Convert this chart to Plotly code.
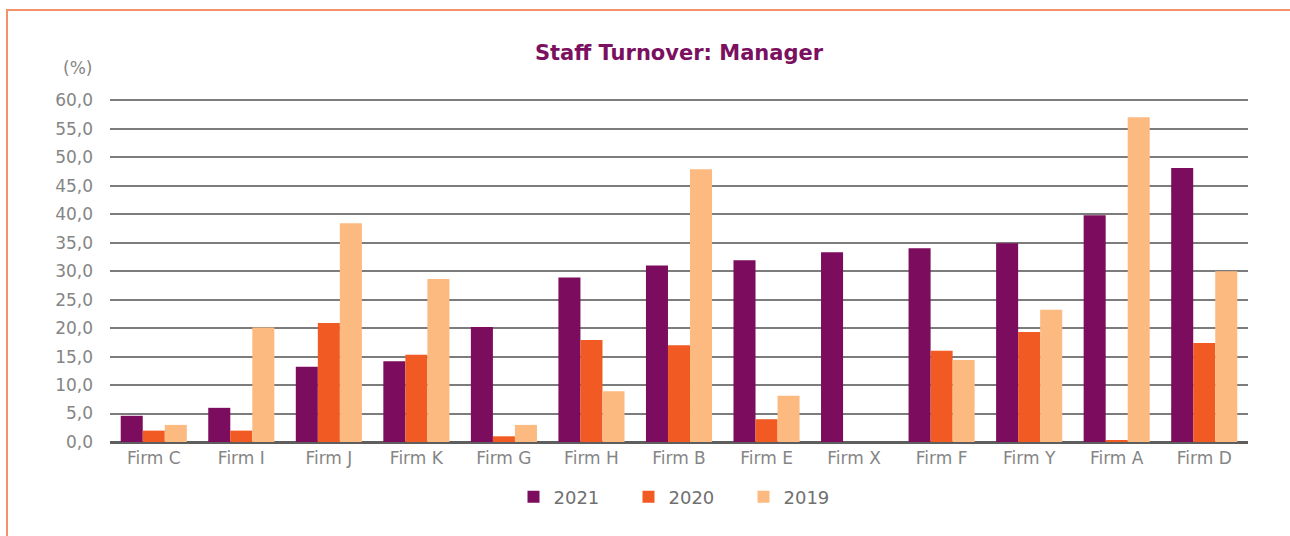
import plotly.graph_objects as go

firms = ["Firm C", "Firm I", "Firm J", "Firm K", "Firm G", "Firm H", "Firm B",
         "Firm E", "Firm X", "Firm F", "Firm Y", "Firm A", "Firm D"]
v2021 = [4.6, 6.0, 13.2, 14.2, 20.2, 28.9, 31.0, 31.9, 33.3, 34.0, 34.9, 39.8, 48.1]
v2020 = [2.0, 2.0, 20.9, 15.3, 1.0, 17.9, 17.0, 4.0, 0.0, 16.0, 19.3, 0.2, 17.4]
v2019 = [3.0, 20.1, 38.4, 28.6, 3.0, 8.9, 47.9, 8.1, 0.0, 14.4, 23.2, 57.0, 30.0]

colors = {"2021": "#7B0C5E", "2020": "#F15A22", "2019": "#FDBA80"}
font_family = "'DejaVu Sans', sans-serif"
text_gray = "#858585"

fig = go.Figure()
for name, vals in [("2021", v2021), ("2020", v2020), ("2019", v2019)]:
    fig.add_trace(go.Bar(x=firms, y=vals, name=name, marker_color=colors[name],
                         marker_line_width=0))

L, R, T, B = 110, 42, 98, 94
W, H = 1290, 536
pw, ph = W - L - R, H - T - B

def px(x):
    return (x - L) / pw

def py(y):
    return (H - B - y) / ph

fig.update_layout(
    width=W, height=H,
    margin=dict(l=L, r=R, t=T, b=B),
    paper_bgcolor="white", plot_bgcolor="white",
    barmode="group", bargap=0.245, bargroupgap=0,
    separators=",.",
    font=dict(family=font_family, color=text_gray),
    title=dict(text="<b>Staff Turnover: Manager</b>", x=px(679), xref="paper",
               xanchor="center", y=1 - 53 / H, yanchor="middle",
               font=dict(size=21, color="#7B1060", family=font_family)),
    xaxis=dict(showgrid=False, tickfont=dict(size=17, color=text_gray),
               showline=False, ticks="", ticklabelstandoff=4),
    yaxis=dict(range=[0, 60.4], tick0=0, dtick=5, tickformat=".1f",
               showgrid=True, gridcolor="#7c7c7c", gridwidth=2,
               tickfont=dict(size=17, color=text_gray), ticks="",
               zeroline=True, zerolinecolor="#5e5e5e", zerolinewidth=3,
               ticklabelstandoff=16),
    legend=dict(orientation="h", x=px(686), xanchor="center", y=py(497),
                yanchor="middle", font=dict(size=18, color="#707070"),
                itemwidth=30, traceorder="normal",
                entrywidth=70, entrywidthmode="pixels"),
    showlegend=True,
    annotations=[dict(text="(%)", x=px(94), y=py(68), xref="paper", yref="paper",
                      xanchor="right", yanchor="middle", showarrow=False,
                      font=dict(size=17, color=text_gray))],
    shapes=[
        dict(type="line", xref="paper", yref="paper", x0=px(7), x1=px(7),
             y0=py(9), y1=py(540), line=dict(color="#F4906A", width=2)),
        dict(type="line", xref="paper", yref="paper", x0=px(6), x1=px(1290),
             y0=py(10), y1=py(10), line=dict(color="#F4906A", width=2)),
    ],
)

fig.write_html("out.html", config={"displayModeBar": False},
               post_script="document.body.style.margin='0px';")
